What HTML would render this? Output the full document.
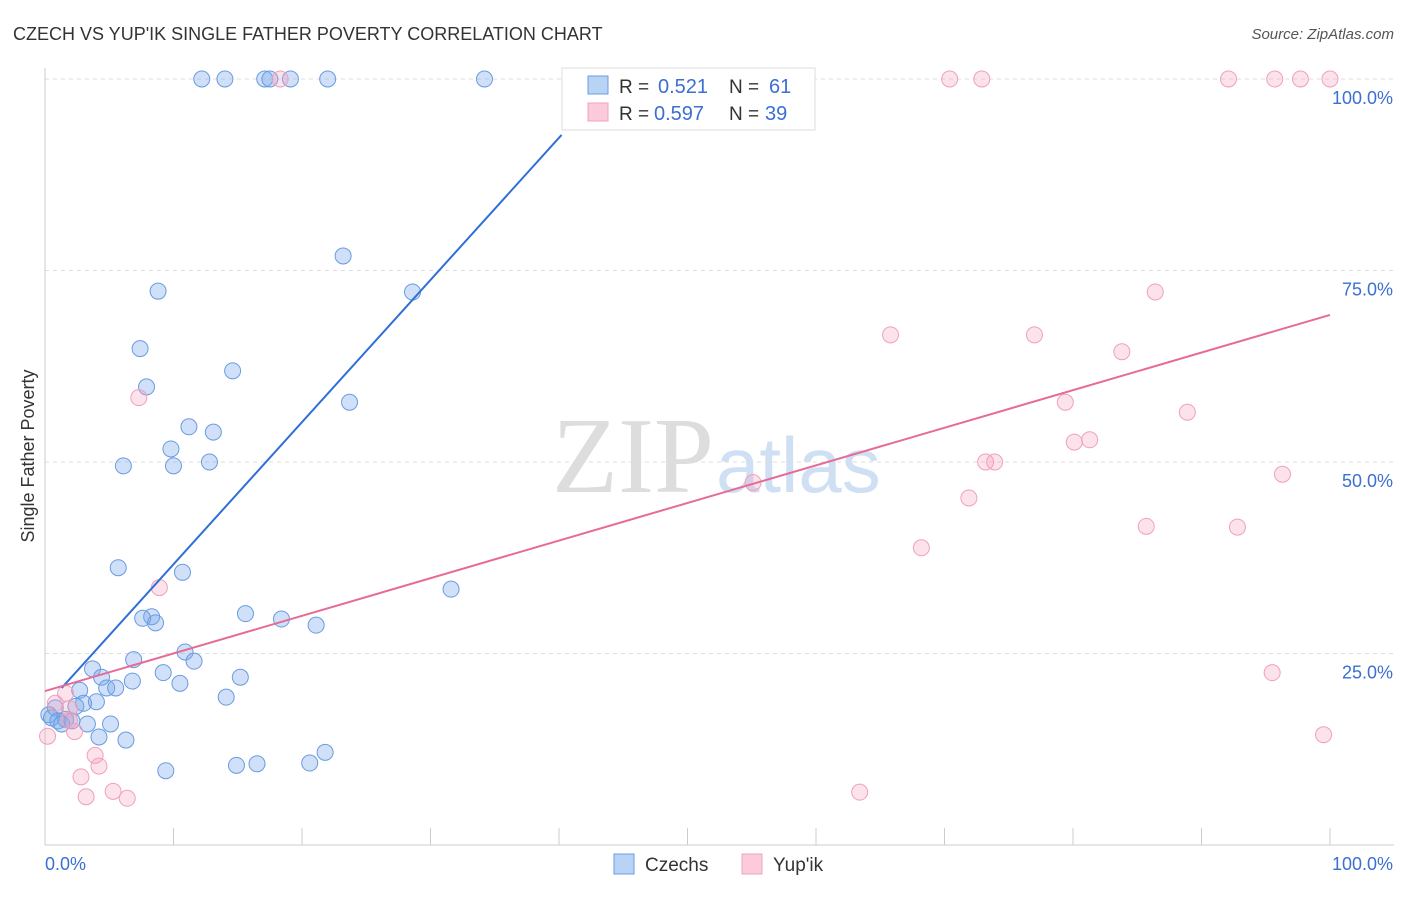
<!DOCTYPE html>
<html><head><meta charset="utf-8"><style>
body{margin:0;background:#fff;font-family:"Liberation Sans",sans-serif;}
</style></head><body>
<svg width="1406" height="892" xmlns="http://www.w3.org/2000/svg" font-family="Liberation Sans, sans-serif">
<text x="13" y="40" font-size="18" fill="#333">CZECH VS YUP'IK SINGLE FATHER POVERTY CORRELATION CHART</text>
<text x="1394" y="39" font-size="15" fill="#555" text-anchor="end" font-style="italic">Source: ZipAtlas.com</text>
<text x="714" y="492" font-size="108" text-anchor="end" fill="#ddd" font-family="Liberation Serif, serif">ZIP</text>
<text x="716" y="492" font-size="78" fill="#cfe0f5">atlas</text>
<g id="grid"></g>
<g id="axes"></g>
<g id="pts"></g>
<g id="lines"></g>
<text transform="translate(34,456) rotate(-90)" font-size="18" fill="#333" text-anchor="middle">Single Father Poverty</text>
<g>
<rect x="562" y="68" width="253" height="62" fill="#fff" stroke="#ddd"/>
<rect x="588" y="76" width="20" height="18" fill="#b9d3f5" stroke="#6a9be0"/>
<rect x="588" y="103" width="20" height="18" fill="#fbcbdb" stroke="#f0a0bc"/>
<text x="619" y="93" font-size="19" fill="#333">R =</text>
<text x="658" y="93" font-size="20" fill="#3b6fd1">0.521</text>
<text x="729" y="93" font-size="19" fill="#333">N =</text>
<text x="769" y="93" font-size="20" fill="#3b6fd1">61</text>
<text x="619" y="120" font-size="19" fill="#333">R =</text>
<text x="654" y="120" font-size="20" fill="#3b6fd1">0.597</text>
<text x="729" y="120" font-size="19" fill="#333">N =</text>
<text x="765" y="120" font-size="20" fill="#3b6fd1">39</text>
</g>
<g>
<rect x="614" y="854" width="20" height="20" fill="#b9d3f5" stroke="#6a9be0"/>
<text x="645" y="871" font-size="19" fill="#333">Czechs</text>
<rect x="742" y="854" width="20" height="20" fill="#fbcbdb" stroke="#f0a0bc"/>
<text x="773" y="871" font-size="19" fill="#333">Yup'ik</text>
</g>
</svg>
<script>
const yTicks=[25,50,75,100];
const yTickLabels=["25.0%","50.0%","75.0%","100.0%"];
const czechX=[12.2,14.0,17.1,17.5,19.1,22.0,34.2,23.2,8.8,28.6,7.4,7.9,14.6,23.7,11.2,13.1,9.8,10.0,12.8,6.1,5.7,10.7,31.6,15.6,8.3,7.6,8.6,18.4,21.1,10.9,6.9,11.6,3.7,9.2,4.4,15.2,6.8,10.5,4.8,5.5,2.7,14.1,4.0,3.0,2.4,0.8,0.3,0.5,1.6,1.0,2.1,5.1,3.3,1.3,4.2,6.3,21.8,20.6,9.4,14.9,16.5];
const czechY=[100,100,100,100,100,100,100,76.9,72.3,72.2,64.8,59.8,61.9,57.8,54.6,53.9,51.7,49.5,50.0,49.5,36.2,35.6,33.4,30.2,29.8,29.6,29.0,29.5,28.7,25.2,24.2,24.0,23.0,22.5,21.9,21.9,21.4,21.1,20.5,20.5,20.2,19.3,18.7,18.5,18.1,17.9,17.0,16.6,16.4,16.2,16.2,15.8,15.8,15.8,14.1,13.7,12.1,10.7,9.7,10.4,10.6];
const yupikX=[18.3,70.4,72.9,92.1,95.7,97.7,100,86.4,65.8,77.0,83.8,7.3,79.4,88.9,81.3,80.1,73.2,73.9,55.1,96.3,71.9,85.7,92.8,68.2,8.9,95.5,1.6,0.8,1.9,1.9,2.3,0.2,3.9,4.2,2.8,5.3,3.2,6.4,63.4,99.5];
const yupikY=[100,100,100,100,100,100,100,72.2,66.6,66.6,64.4,58.4,57.8,56.5,52.9,52.6,50.0,50.0,47.3,48.4,45.3,41.6,41.5,38.8,33.6,22.5,19.8,18.5,17.8,16.3,14.8,14.2,11.7,10.3,8.9,7.0,6.3,6.1,6.9,14.4];
const czechLine=[[1.3,20.5],[40.2,92.7]];
const yupikLine=[[0,20.1],[100,69.2]];
const NS="http://www.w3.org/2000/svg";
const X=v=>45+v*12.85, Y=v=>845-v*7.66;
function mk(p,t,a){const e=document.createElementNS(NS,t);for(const k in a)e.setAttribute(k,a[k]);document.getElementById(p).appendChild(e);return e;}
yTicks.forEach((t,i)=>{
 const g=mk('grid','line',{x1:45,x2:1394,y1:Y(t),y2:Y(t),stroke:'#ddd','stroke-dasharray':'4,4'});
 
 
 const l=mk('axes','text',{x:1393,y:Y(t)+25,'font-size':18,fill:'#3b6fd1','text-anchor':'end'});
 l.textContent=yTickLabels[i];
 
 
});
const ax=mk('axes','line',{x1:45,x2:1394,y1:845,y2:845,stroke:'#ccc'});


const ay=mk('axes','line',{x1:45,x2:45,y1:68,y2:845,stroke:'#ccc'});


for(let i=0;i<=10;i++){const t=mk('axes','line',{x1:X(i*10),x2:X(i*10),y1:828,y2:845,stroke:'#ccc'});
 
 }
const x0=mk('axes','text',{x:45,y:870,'font-size':18,fill:'#3b6fd1'});x0.textContent='0.0%';


const x1=mk('axes','text',{x:1393,y:870,'font-size':18,fill:'#3b6fd1','text-anchor':'end'});x1.textContent='100.0%';


czechX.forEach((v,i)=>{const c=mk('pts','circle',{cx:X(v),cy:Y(czechY[i]),r:8,fill:'rgba(120,165,235,0.35)',stroke:'#6a9be0','stroke-width':1});
 
 });
yupikX.forEach((v,i)=>{const c=mk('pts','circle',{cx:X(v),cy:Y(yupikY[i]),r:8,fill:'rgba(245,160,190,0.3)',stroke:'#f0a0bc','stroke-width':1});
 
 });
const l1=mk('lines','line',{x1:X(czechLine[0][0]),y1:Y(czechLine[0][1]),x2:X(czechLine[1][0]),y2:Y(czechLine[1][1]),stroke:'#2f6fd8','stroke-width':2});


const l2=mk('lines','line',{x1:X(yupikLine[0][0]),y1:Y(yupikLine[0][1]),x2:X(yupikLine[1][0]),y2:Y(yupikLine[1][1]),stroke:'#e66b97','stroke-width':2});


</script>
</body></html>
